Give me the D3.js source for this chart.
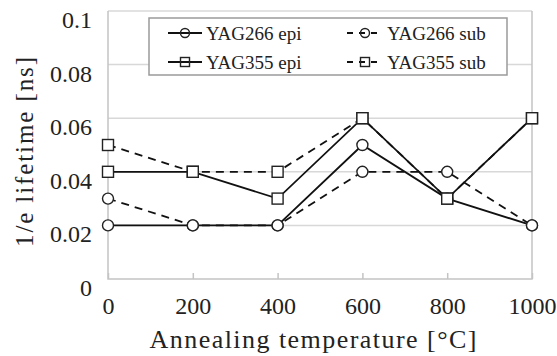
<!DOCTYPE html>
<html>
<head>
<meta charset="utf-8">
<script src="https://cdn.jsdelivr.net/npm/d3@7"></script>
<style>
  body { margin: 0; background: #fff; }
  svg { display: block; }
  svg text { font-family: "Liberation Serif", "DejaVu Serif", "Times New Roman", Times, serif; }
</style>
</head>
<body>
<svg id="chart" width="557" height="356"></svg>
<script>
// annealing temperatures (°C)
const temps = [0, 200, 400, 600, 800, 1000];
// 1/e lifetime values (ns)
const yag266Epi = [0.02, 0.02, 0.02, 0.05, 0.03, 0.02];
const yag266Sub = [0.03, 0.02, 0.02, 0.04, 0.04, 0.02];
const yag355Epi = [0.04, 0.04, 0.03, 0.06, 0.03, 0.06];
const yag355Sub = [0.05, 0.04, 0.04, 0.06, 0.03, 0.06];
const yTicks = [0, 0.02, 0.04, 0.06, 0.08, 0.1];

const series = [
  { name: 'YAG266 epi', values: yag266Epi, shape: 'circle', dashed: false },
  { name: 'YAG266 sub', values: yag266Sub, shape: 'circle', dashed: true },
  { name: 'YAG355 epi', values: yag355Epi, shape: 'square', dashed: false },
  { name: 'YAG355 sub', values: yag355Sub, shape: 'square', dashed: true }
];

const svg = d3.select('#chart');
const plotL = 108, plotR = 532, plotT = 11, plotB = 279;

const x = d3.scaleLinear().domain([0, 1000]).range([plotL, plotR]);
const y = d3.scaleLinear().domain([0, 0.1]).range([plotB, plotT]);

// gridlines
svg.append('g')
  .selectAll('line')
  .data(yTicks.slice(1))
  .join('line')
  .attr('x1', plotL).attr('x2', plotR)
  .attr('y1', d => y(d)).attr('y2', d => y(d))
  .attr('stroke', '#d8d8d8')
  .attr('stroke-width', 1.5);

// plot frame (left, right, bottom)
svg.append('path')
  .attr('d', `M${plotL},${plotT}V${plotB}H${plotR}V${plotT}`)
  .attr('fill', 'none')
  .attr('stroke', '#c4c4c4')
  .attr('stroke-width', 1.5);

// y axis labels (top of digits sits on the gridline)
svg.append('g')
  .selectAll('text')
  .data(yTicks)
  .join('text')
  .attr('x', 92)
  .attr('y', d => y(d) + 17)
  .attr('text-anchor', 'end')
  .attr('font-size', 24)
  .attr('fill', '#222')
  .text(d => d === 0 ? '0' : d3.format('.2~f')(d));

// x axis ticks and labels
const xAxis = d3.axisBottom(x).tickValues(temps).tickSize(-6).tickPadding(18).tickFormat(d3.format('d'));
const gx = svg.append('g').attr('transform', `translate(0,${plotB})`).call(xAxis);
gx.select('.domain').remove();
gx.selectAll('.tick line').attr('stroke', '#c4c4c4').attr('stroke-width', 1.5);
gx.selectAll('.tick text')
  .attr('font-size', 24)
  .attr('fill', '#222');

// axis titles
svg.append('text')
  .attr('x', x(500) - 7)
  .attr('y', 348)
  .attr('text-anchor', 'middle')
  .attr('font-size', 26)
  .attr('textLength', 327)
  .attr('lengthAdjust', 'spacing')
  .attr('fill', '#222')
  .text('Annealing temperature [°C]');

svg.append('text')
  .attr('transform', 'translate(33,152) rotate(-90)')
  .attr('text-anchor', 'middle')
  .attr('font-size', 25)
  .attr('textLength', 190)
  .attr('lengthAdjust', 'spacing')
  .attr('fill', '#222')
  .text('1/e lifetime [ns]');

function drawMarker(g, shape, cx, cy, fill, size) {
  const r = size || 5;
  if (shape === 'circle') {
    g.append('circle').attr('cx', cx).attr('cy', cy).attr('r', r)
      .attr('fill', fill).attr('stroke', '#222').attr('stroke-width', 1.4);
  } else {
    g.append('rect').attr('x', cx - r).attr('y', cy - r).attr('width', 2 * r).attr('height', 2 * r)
      .attr('fill', fill).attr('stroke', '#222').attr('stroke-width', 1.4);
  }
}

const line = d3.line().x((d, i) => x(temps[i])).y(d => y(d));

// dashed series first so the solid ones sit on top
const order = [series[1], series[3], series[0], series[2]];
order.forEach(s => {
  svg.append('path')
    .attr('d', line(s.values))
    .attr('fill', 'none')
    .attr('stroke', '#111')
    .attr('stroke-width', 1.8)
    .attr('stroke-dasharray', s.dashed ? '8,6' : null);
});
order.forEach(s => {
  const g = svg.append('g');
  s.values.forEach((v, i) => drawMarker(g, s.shape, x(temps[i]), y(v), '#fff', 5.5));
});

// legend
const legend = svg.append('g');
legend.append('rect')
  .attr('x', 149).attr('y', 18).attr('width', 358).attr('height', 57)
  .attr('fill', '#fff').attr('stroke', '#9a9a9a').attr('stroke-width', 1.5);

const legendPos = [
  { s: series[0], lx: 168, ly: 33 },
  { s: series[1], lx: 347, ly: 33 },
  { s: series[2], lx: 168, ly: 62 },
  { s: series[3], lx: 347, ly: 62 }
];
legendPos.forEach(p => {
  const g = legend.append('g');
  const len = p.s.dashed ? 36 : 34;
  g.append('line')
    .attr('x1', p.lx).attr('x2', p.lx + len)
    .attr('y1', p.ly).attr('y2', p.ly)
    .attr('stroke', '#111').attr('stroke-width', 1.8)
    .attr('stroke-dasharray', p.s.dashed ? '6,6' : null);
  drawMarker(g, p.s.shape, p.lx + len / 2, p.ly, 'none', 4.5);
  g.append('text')
    .attr('x', p.lx + len + 4)
    .attr('y', p.ly + 7)
    .attr('font-size', 19)
    .attr('fill', '#222')
    .text(p.s.name);
});
</script>
</body>
</html>
